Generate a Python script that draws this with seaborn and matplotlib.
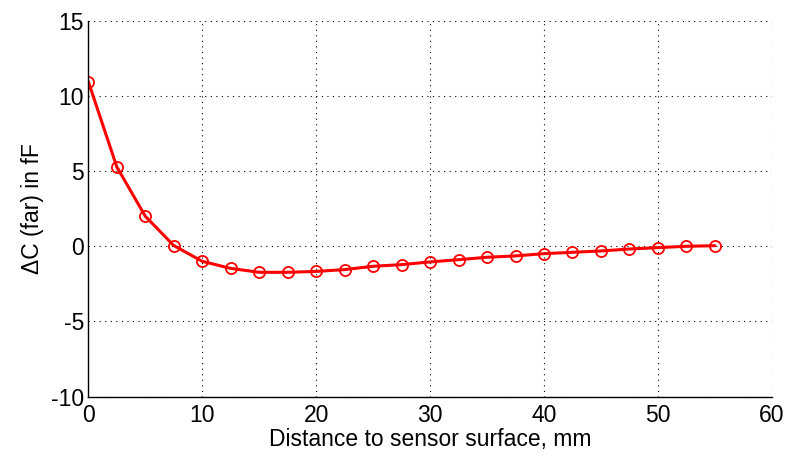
import matplotlib
matplotlib.use("Agg")
import matplotlib.pyplot as plt
import seaborn as sns
import pandas as pd

distance_mm = [0, 2.5, 5, 7.5, 10, 12.5, 15, 17.5, 20, 22.5, 25, 27.5, 30,
               32.5, 35, 37.5, 40, 42.5, 45, 47.5, 50, 52.5, 55]
delta_c_fF = [10.95, 5.28, 2.0, 0.05, -1.0, -1.47, -1.73, -1.73, -1.67, -1.55,
              -1.33, -1.22, -1.04, -0.89, -0.73, -0.64, -0.49, -0.4, -0.31,
              -0.18, -0.09, 0.0, 0.04]
x_ticks = [0, 10, 20, 30, 40, 50, 60]
y_ticks = [-10, -5, 0, 5, 10, 15]

sns.set_theme(style="white")
plt.rcParams['font.family'] = ['Liberation Sans', 'DejaVu Sans']
plt.rcParams['axes.unicode_minus'] = False

df = pd.DataFrame({"d": distance_mm, "c": delta_c_fF})

fig = plt.figure(figsize=(7.9, 4.57), dpi=100)
ax = fig.add_axes([0.1118, 0.132, 0.977 - 0.1118, 0.9547 - 0.132])
sns.lineplot(data=df, x="d", y="c", ax=ax, color="#ff0000", linewidth=2.2,
             marker="o", markersize=8, markerfacecolor="none",
             markeredgecolor="#ff0000", markeredgewidth=1.3)
ax.set_xlim(0, 60)
ax.set_ylim(-10, 15)
ax.set_xticks(x_ticks)
ax.set_yticks(y_ticks)
ax.grid(True, color="black", linestyle=(0, (1, 4)), linewidth=0.8)
for s in ["top", "right"]:
    ax.spines[s].set_visible(False)
for s in ["left", "bottom"]:
    ax.spines[s].set_color("black")
    ax.spines[s].set_linewidth(1.0)
ax.tick_params(direction="in", length=5, width=1, color="black",
               labelsize=16.5, labelcolor="black", pad=3)
ax.tick_params(axis="x", pad=5)
ax.set_xlabel("Distance to sensor surface, mm", fontsize=16.5, color="black", labelpad=1)
ax.set_ylabel("ΔC (far) in fF", fontsize=16.5, color="black", labelpad=5)
fig.savefig("out.png", dpi=100)
